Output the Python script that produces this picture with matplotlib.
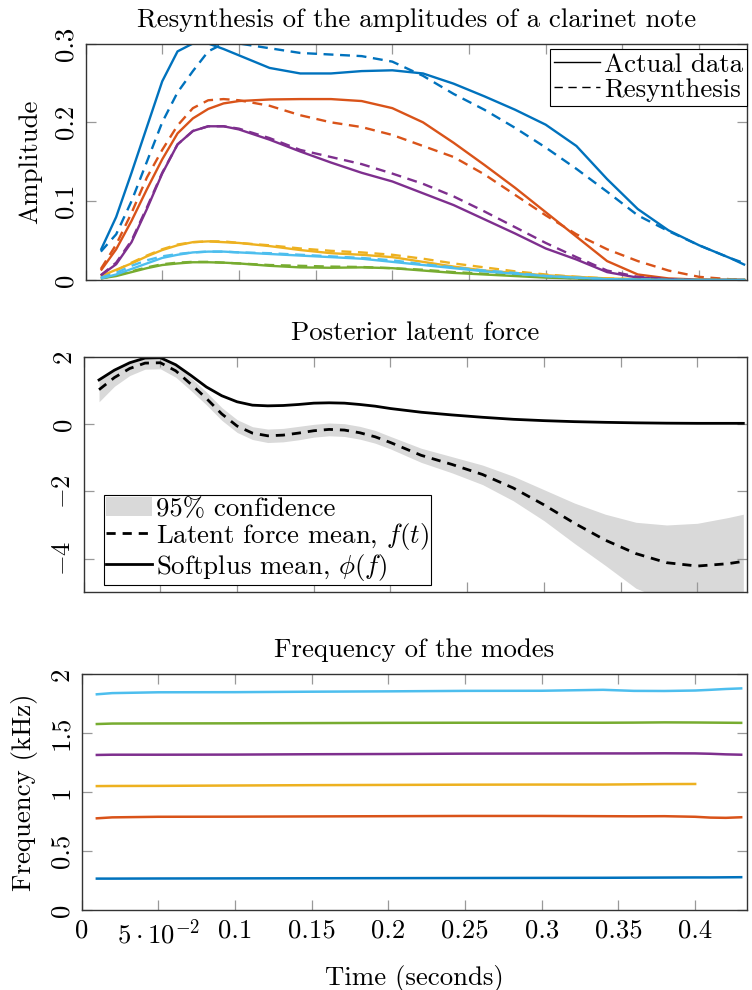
import numpy as np
import matplotlib
matplotlib.use('Agg')
import matplotlib.pyplot as plt
from matplotlib.lines import Line2D
from matplotlib.patches import Patch

FS = 19.3
plt.rcParams.update({
    'font.family': 'serif',
    'font.serif': ['cmr10'],
    'mathtext.fontset': 'cm',
    'axes.formatter.use_mathtext': True,
    'font.size': FS,
    'axes.titlesize': FS,
    'axes.labelsize': FS,
    'legend.fontsize': FS,
})

# ---------------- data ----------------
t_amp = [0.01, 0.02, 0.03, 0.04, 0.05, 0.06, 0.07, 0.08, 0.09, 0.10, 0.12, 0.14, 0.16, 0.18,
         0.20, 0.22, 0.24, 0.26, 0.28, 0.30, 0.32, 0.34, 0.36, 0.38, 0.40, 0.42, 0.43]

amp_actual_1 = [0.038, 0.080, 0.136, 0.194, 0.252, 0.290, 0.300, 0.300, 0.293, 0.285, 0.269, 0.262, 0.262, 0.265,
                0.266, 0.262, 0.249, 0.233, 0.216, 0.197, 0.170, 0.128, 0.090, 0.063, 0.044, 0.028, 0.019]
amp_resyn_1 = [0.036, 0.058, 0.100, 0.150, 0.200, 0.238, 0.265, 0.290, 0.300, 0.300, 0.294, 0.288, 0.286, 0.284,
               0.277, 0.259, 0.236, 0.216, 0.193, 0.168, 0.141, 0.112, 0.082, 0.062, 0.044, 0.028, 0.021]
amp_actual_2 = [0.012, 0.039, 0.075, 0.115, 0.153, 0.186, 0.205, 0.217, 0.224, 0.227, 0.229, 0.2295, 0.2295, 0.227,
                0.218, 0.200, 0.174, 0.146, 0.117, 0.086, 0.055, 0.024, 0.007, 0.002, 0.0005, 0.0, 0.0]
amp_resyn_2 = [0.014, 0.045, 0.085, 0.130, 0.165, 0.196, 0.218, 0.228, 0.2295, 0.228, 0.221, 0.209, 0.200, 0.194,
               0.184, 0.170, 0.156, 0.134, 0.108, 0.082, 0.058, 0.039, 0.024, 0.012, 0.004, 0.001, 0.0]
amp_actual_3 = [0.005, 0.013, 0.021, 0.030, 0.038, 0.044, 0.048, 0.049, 0.048, 0.047, 0.043, 0.038, 0.034, 0.032,
                0.029, 0.023, 0.017, 0.012, 0.009, 0.006, 0.004, 0.002, 0.001, 0.0005, 0.0, 0.0, 0.0]
amp_resyn_3 = [0.004, 0.012, 0.022, 0.031, 0.039, 0.045, 0.048, 0.049, 0.049, 0.047, 0.044, 0.040, 0.037, 0.035,
               0.032, 0.027, 0.021, 0.016, 0.011, 0.007, 0.004, 0.002, 0.001, 0.0005, 0.0, 0.0, 0.0]
amp_actual_4 = [0.006, 0.020, 0.048, 0.090, 0.135, 0.172, 0.189, 0.195, 0.195, 0.191, 0.178, 0.163, 0.149, 0.136,
                0.125, 0.110, 0.095, 0.077, 0.059, 0.040, 0.026, 0.010, 0.003, 0.001, 0.0, 0.0, 0.0]
amp_resyn_4 = [0.006, 0.022, 0.050, 0.092, 0.136, 0.172, 0.189, 0.195, 0.195, 0.192, 0.180, 0.165, 0.156, 0.147,
               0.135, 0.122, 0.106, 0.087, 0.067, 0.047, 0.029, 0.012, 0.004, 0.001, 0.0, 0.0, 0.0]
amp_actual_5 = [0.002, 0.005, 0.010, 0.015, 0.019, 0.021, 0.0225, 0.0225, 0.022, 0.021, 0.018, 0.016, 0.0155, 0.016,
                0.015, 0.012, 0.009, 0.007, 0.005, 0.003, 0.002, 0.001, 0.0005, 0.0, 0.0, 0.0, 0.0]
amp_resyn_5 = [0.002, 0.006, 0.011, 0.016, 0.020, 0.022, 0.023, 0.023, 0.022, 0.021, 0.019, 0.018, 0.017, 0.0165,
               0.015, 0.013, 0.010, 0.008, 0.006, 0.004, 0.002, 0.001, 0.0005, 0.0, 0.0, 0.0, 0.0]
amp_actual_6 = [0.002, 0.007, 0.014, 0.021, 0.028, 0.032, 0.035, 0.036, 0.036, 0.035, 0.033, 0.031, 0.029, 0.027,
                0.023, 0.019, 0.015, 0.011, 0.008, 0.005, 0.003, 0.001, 0.0005, 0.0, 0.0, 0.0, 0.0]
amp_resyn_6 = [0.003, 0.009, 0.018, 0.025, 0.030, 0.033, 0.035, 0.036, 0.036, 0.035, 0.034, 0.032, 0.030, 0.028,
               0.025, 0.020, 0.016, 0.012, 0.009, 0.005, 0.003, 0.001, 0.0005, 0.0, 0.0, 0.0, 0.0]

t_force = [0.01, 0.02, 0.03, 0.04, 0.05, 0.06, 0.07, 0.08, 0.09, 0.10, 0.11, 0.12, 0.13, 0.14, 0.15, 0.16,
           0.17, 0.18, 0.19, 0.20, 0.22, 0.24, 0.26, 0.28, 0.30, 0.32, 0.34, 0.36, 0.38, 0.40, 0.42, 0.43]
force_mean = [1.02, 1.38, 1.65, 1.81, 1.82, 1.58, 1.18, 0.76, 0.30, -0.06, -0.27, -0.35, -0.33, -0.27, -0.20, -0.16,
              -0.18, -0.26, -0.38, -0.55, -0.93, -1.20, -1.50, -1.90, -2.40, -2.95, -3.45, -3.85, -4.12, -4.22, -4.15, -4.08]
force_upper = [1.38, 1.62, 1.85, 1.98, 1.99, 1.77, 1.37, 0.95, 0.49, 0.13, -0.08, -0.15, -0.13, -0.07, -0.01, 0.03,
               0.01, -0.07, -0.19, -0.37, -0.72, -0.97, -1.22, -1.55, -1.95, -2.35, -2.68, -2.92, -3.00, -2.95, -2.78, -2.68]
force_lower = [0.66, 1.12, 1.44, 1.63, 1.64, 1.39, 0.99, 0.57, 0.11, -0.25, -0.46, -0.55, -0.53, -0.47, -0.39, -0.35,
               -0.37, -0.45, -0.57, -0.74, -1.14, -1.45, -1.80, -2.28, -2.87, -3.55, -4.20, -4.88, -5.25, -5.50, -5.52, -5.48]
softplus_mean = [1.31, 1.60, 1.82, 1.96, 1.97, 1.76, 1.44, 1.10, 0.84, 0.66, 0.56, 0.54, 0.55, 0.58, 0.62, 0.63,
                 0.62, 0.58, 0.53, 0.46, 0.35, 0.27, 0.20, 0.14, 0.10, 0.07, 0.05, 0.035, 0.025, 0.02, 0.02, 0.02]

t_freq = [0.01, 0.02, 0.05, 0.10, 0.15, 0.20, 0.25, 0.30, 0.34, 0.36, 0.38, 0.40, 0.41, 0.42, 0.43]
freq_1 = [0.266, 0.266, 0.267, 0.268, 0.269, 0.270, 0.271, 0.272, 0.273, 0.274, 0.275, 0.276, 0.276, 0.277, 0.278]
freq_2 = [0.777, 0.785, 0.790, 0.791, 0.793, 0.795, 0.797, 0.797, 0.795, 0.794, 0.795, 0.790, 0.783, 0.781, 0.786]
freq_3 = [1.050, 1.051, 1.052, 1.055, 1.058, 1.060, 1.062, 1.063, 1.063, 1.065, 1.067, 1.068]
freq_4 = [1.314, 1.316, 1.316, 1.317, 1.320, 1.322, 1.325, 1.326, 1.327, 1.327, 1.328, 1.327, 1.324, 1.319, 1.316]
freq_5 = [1.576, 1.580, 1.581, 1.582, 1.584, 1.586, 1.587, 1.587, 1.587, 1.588, 1.590, 1.589, 1.588, 1.587, 1.586]
freq_6 = [1.828, 1.838, 1.845, 1.846, 1.850, 1.853, 1.857, 1.858, 1.866, 1.857, 1.856, 1.860, 1.866, 1.873, 1.878]

x_ticks = [0, 0.05, 0.1, 0.15, 0.2, 0.25, 0.3, 0.35, 0.4]
x_ticklabels = ['0', r'$5\cdot10^{-2}$', '0.1', '0.15', '0.2', '0.25', '0.3', '0.35', '0.4']
amp_yticks = [0, 0.1, 0.2, 0.3]
amp_yticklabels = ['0', '0.1', '0.2', '0.3']
force_yticks = [-4, -2, 0, 2]
force_yticklabels = [r'$-4$', r'$-2$', '0', '2']
freq_yticks = [0, 0.5, 1, 1.5, 2]
freq_yticklabels = ['0', '0.5', '1', '1.5', '2']

colors = ['#0072BD', '#D95319', '#EDB120', '#7E2F8E', '#77AC30', '#4DBEEE']

# ---------------- figure ----------------
W, H = 752, 990
fig = plt.figure(figsize=(W / 100, H / 100), dpi=100)


def rect(l, r, t, b):
    return [l / W, 1 - b / H, (r - l) / W, (b - t) / H]


ax1 = fig.add_axes(rect(85.5, 747, 43.5, 280))
ax2 = fig.add_axes(rect(83.7, 747, 356.7, 592.3))
ax3 = fig.add_axes(rect(81.5, 747, 674, 910))


def style(ax, xmax):
    for s in ax.spines.values():
        s.set_color('#333333')
        s.set_linewidth(1.0)
    ax.set_xlim(0, xmax)
    ax.set_xticks(x_ticks)
    ax.tick_params(direction='in', length=7, width=0.9, color='#999999',
                   top=True, right=True, pad=6, labelsize=FS)
    ax.tick_params(axis='y', labelrotation=90)


# ---- top ----
style(ax1, 0.4312)
act = [amp_actual_1, amp_actual_2, amp_actual_3, amp_actual_4, amp_actual_5, amp_actual_6]
res = [amp_resyn_1, amp_resyn_2, amp_resyn_3, amp_resyn_4, amp_resyn_5, amp_resyn_6]
for c, a, r in zip(colors, act, res):
    ax1.plot(t_amp, a, color=c, lw=1.7, solid_capstyle='butt')
    ax1.plot(t_amp, r, color=c, lw=1.7, dashes=(4.2, 2.8))
ax1.set_ylim(0, 0.3)
ax1.set_yticks(amp_yticks)
ax1.set_yticklabels(amp_yticklabels, va='center')
ax1.tick_params(labelbottom=False)
ax1.set_ylabel('Amplitude', labelpad=8)
ax1.set_title('Resynthesis of the amplitudes of a clarinet note', pad=12)
h1 = [Line2D([], [], color='black', lw=1.0),
      Line2D([], [], color='black', lw=1.0, dashes=(6, 4))]
leg1 = ax1.legend(h1, ['Actual data', 'Resynthesis'], loc='upper right',
                  bbox_to_anchor=(1.0, 0.977), borderaxespad=0, fancybox=False,
                  edgecolor='black', framealpha=1, handlelength=1.7, handletextpad=0.15,
                  labelspacing=0.05, borderpad=0.15)
leg1.get_frame().set_linewidth(0.8)

# ---- middle ----
style(ax2, 0.4324)
band = ax2.fill_between(t_force, force_lower, force_upper, color='#d9d9d9', lw=0)
l_mean, = ax2.plot(t_force, force_mean, color='black', lw=2.0, dashes=(3.3, 2.5))
l_soft, = ax2.plot(t_force, softplus_mean, color='black', lw=2.0)
ax2.set_ylim(-5, 2)
ax2.set_yticks(force_yticks)
ax2.set_yticklabels(force_yticklabels, va='center')
ax2.tick_params(labelbottom=False)
ax2.set_title('Posterior latent force', pad=12)
leg2 = ax2.legend([Patch(facecolor='#d9d9d9', edgecolor='none'), l_mean, l_soft],
                  ['95% confidence', r'Latent force mean, $f(t)$', r'Softplus mean, $\phi(f)$'],
                  loc='lower left', bbox_to_anchor=(0.0306, 0.031), borderaxespad=0,
                  fancybox=False, edgecolor='black', framealpha=1, handlelength=1.7,
                  handletextpad=0.15, labelspacing=0.0, borderpad=0.08)
leg2.get_frame().set_linewidth(0.8)

# ---- bottom ----
style(ax3, 0.4338)
freqs = [freq_1, freq_2, freq_3, freq_4, freq_5, freq_6]
for c, f in zip(colors, freqs):
    ax3.plot(t_freq[:len(f)], f, color=c, lw=1.8)
ax3.set_ylim(0, 2)
ax3.set_yticks(freq_yticks)
ax3.set_yticklabels(freq_yticklabels, va='center')
ax3.set_xticklabels(x_ticklabels)
ax3.set_ylabel('Frequency (kHz)', labelpad=8)
ax3.set_xlabel('Time (seconds)', labelpad=12)
ax3.set_title('Frequency of the modes', pad=12)

fig.savefig('out.png', dpi=100)
